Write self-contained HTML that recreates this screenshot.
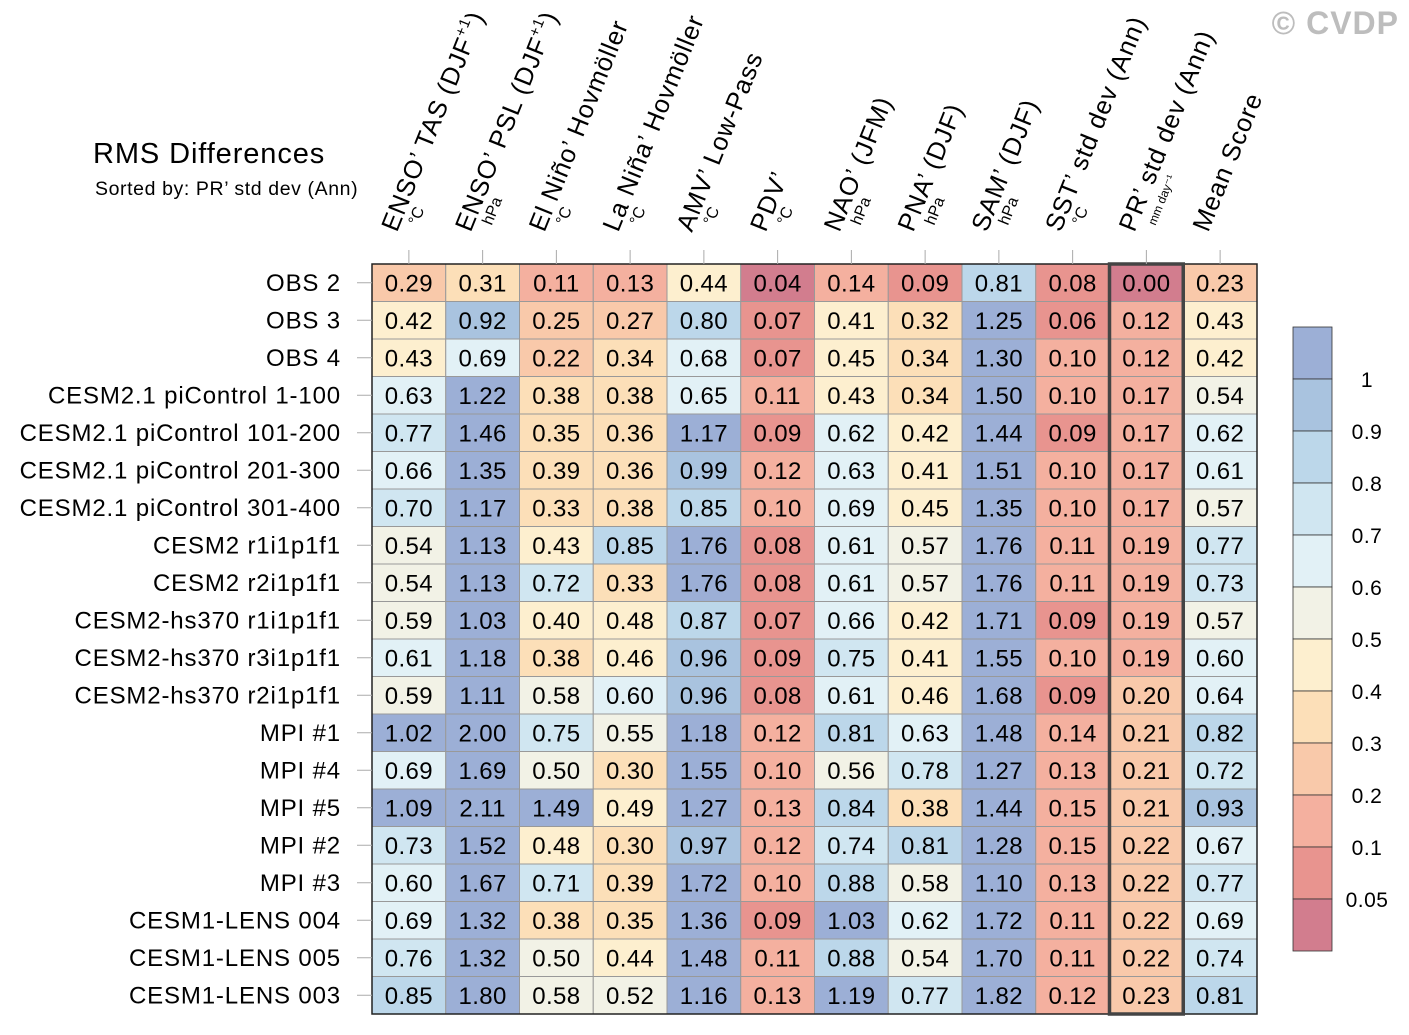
<!DOCTYPE html>
<html><head><meta charset="utf-8"><style>
body{margin:0;background:#fff;}
svg{display:block;font-family:"Liberation Sans",Arial,sans-serif;}
</style></head><body>
<svg id="chart" width="1409" height="1035" viewBox="0 0 1409 1035">
<text x="1399" y="34" text-anchor="end" font-size="32" font-weight="bold" letter-spacing="1" fill="#bdbdbd">© CVDP</text>
<text x="93" y="163" font-size="29" letter-spacing="0.9" fill="#000">RMS Differences</text>
<text x="95" y="195" font-size="19.5" letter-spacing="0.6" fill="#000">Sorted by: PR’ std dev (Ann)</text>
<g id="cells"></g><g id="rowlabels"></g><g id="headers"></g><g id="cbar"></g>
</svg>
<script>
const rows=["OBS 2","OBS 3","OBS 4","CESM2.1 piControl 1-100","CESM2.1 piControl 101-200","CESM2.1 piControl 201-300","CESM2.1 piControl 301-400","CESM2 r1i1p1f1","CESM2 r2i1p1f1","CESM2-hs370 r1i1p1f1","CESM2-hs370 r3i1p1f1","CESM2-hs370 r2i1p1f1","MPI #1","MPI #4","MPI #5","MPI #2","MPI #3","CESM1-LENS 004","CESM1-LENS 005","CESM1-LENS 003"];
const headers=["ENSO’ TAS (DJF","ENSO’ PSL (DJF","El Niño’ Hovmöller","La Niña’ Hovmöller","AMV’ Low-Pass","PDV’","NAO’ (JFM)","PNA’ (DJF)","SAM’ (DJF)","SST’ std dev (Ann)","PR’ std dev (Ann)","Mean Score"];
const units=["°C","hPa","°C","°C","°C","°C","hPa","hPa","hPa","°C","mm day⁻¹",""];
const values=[
[0.29,0.31,0.11,0.13,0.44,0.04,0.14,0.09,0.81,0.08,0.00,0.23],
[0.42,0.92,0.25,0.27,0.80,0.07,0.41,0.32,1.25,0.06,0.12,0.43],
[0.43,0.69,0.22,0.34,0.68,0.07,0.45,0.34,1.30,0.10,0.12,0.42],
[0.63,1.22,0.38,0.38,0.65,0.11,0.43,0.34,1.50,0.10,0.17,0.54],
[0.77,1.46,0.35,0.36,1.17,0.09,0.62,0.42,1.44,0.09,0.17,0.62],
[0.66,1.35,0.39,0.36,0.99,0.12,0.63,0.41,1.51,0.10,0.17,0.61],
[0.70,1.17,0.33,0.38,0.85,0.10,0.69,0.45,1.35,0.10,0.17,0.57],
[0.54,1.13,0.43,0.85,1.76,0.08,0.61,0.57,1.76,0.11,0.19,0.77],
[0.54,1.13,0.72,0.33,1.76,0.08,0.61,0.57,1.76,0.11,0.19,0.73],
[0.59,1.03,0.40,0.48,0.87,0.07,0.66,0.42,1.71,0.09,0.19,0.57],
[0.61,1.18,0.38,0.46,0.96,0.09,0.75,0.41,1.55,0.10,0.19,0.60],
[0.59,1.11,0.58,0.60,0.96,0.08,0.61,0.46,1.68,0.09,0.20,0.64],
[1.02,2.00,0.75,0.55,1.18,0.12,0.81,0.63,1.48,0.14,0.21,0.82],
[0.69,1.69,0.50,0.30,1.55,0.10,0.56,0.78,1.27,0.13,0.21,0.72],
[1.09,2.11,1.49,0.49,1.27,0.13,0.84,0.38,1.44,0.15,0.21,0.93],
[0.73,1.52,0.48,0.30,0.97,0.12,0.74,0.81,1.28,0.15,0.22,0.67],
[0.60,1.67,0.71,0.39,1.72,0.10,0.88,0.58,1.10,0.13,0.22,0.77],
[0.69,1.32,0.38,0.35,1.36,0.09,1.03,0.62,1.72,0.11,0.22,0.69],
[0.76,1.32,0.50,0.44,1.48,0.11,0.88,0.54,1.70,0.11,0.22,0.74],
[0.85,1.80,0.58,0.52,1.16,0.13,1.19,0.77,1.82,0.12,0.23,0.81]];
const levels=[0.05,0.1,0.2,0.3,0.4,0.5,0.6,0.7,0.8,0.9,1];
const levelLabels=["0.05","0.1","0.2","0.3","0.4","0.5","0.6","0.7","0.8","0.9","1"];
const colors=["#d27d8e","#e8948f","#f4b09f","#f9c9aa","#fcdfb8","#fdefcf","#f2f2e6","#e2f1f6","#d0e6f1","#bcd7ea","#a9c3df","#9cafd6"];

const NS="http://www.w3.org/2000/svg";
const X0=372,Y0=264,CW=73.75,RH=37.5;
const xPos=i=>X0+i*CW, yPos=j=>Y0+j*RH;
function colorFor(v){let k=0;while(k<levels.length&&v>=levels[k])k++;return colors[k];}
function mk(tag,attrs,parent){const e=document.createElementNS(NS,tag);for(const a in attrs)e.setAttribute(a,attrs[a]);parent.appendChild(e);return e;}
const cells=document.getElementById('cells');
values.forEach((row,j)=>row.forEach((v,i)=>{
 const r=mk('rect',{x:xPos(i),y:yPos(j),width:CW,height:RH,fill:colorFor(v),stroke:'#999','stroke-width':1},cells);
 
 
 const t=mk('text',{x:xPos(i)+CW/2,y:yPos(j)+RH/2+8.5,'text-anchor':'middle','font-size':24,'letter-spacing':0.4},cells);
 t.textContent=v.toFixed(2);
 
 
}));
const H=rows.length*RH;
const ob=mk('rect',{x:X0,y:Y0,width:CW*12,height:H,fill:'none',stroke:'#222','stroke-width':1.5},cells);


const hb=mk('rect',{x:xPos(10),y:Y0,width:CW,height:H,fill:'none',stroke:'#444','stroke-width':3.5},cells);


const rl=document.getElementById('rowlabels');
rows.forEach((name,j)=>{
 const cy=yPos(j)+RH/2;
 const l=mk('line',{x1:357,x2:X0,y1:cy,y2:cy,stroke:'#aaa','stroke-width':1},rl);
 
 
 const t=mk('text',{x:341,y:cy+8,'text-anchor':'end','font-size':24,'letter-spacing':0.85},rl);
 t.textContent=name;
 
 
});
const hg=document.getElementById('headers');
headers.forEach((h,i)=>{
 const cx=xPos(i)+CW/2;
 const l=mk('line',{x1:cx,x2:cx,y1:250,y2:Y0,stroke:'#aaa','stroke-width':1},hg);
 
 
 const t=mk('text',{x:cx-12,y:233,'font-size':25.5,'letter-spacing':0.9,transform:`rotate(-68 ${cx-12} 233)`},hg);
 t.textContent=h;
 if(i<2){const s=mk('tspan',{'font-size':15,dy:-11},t);s.textContent='+1';const s2=mk('tspan',{dy:11},t);s2.textContent=')';}
 
 
 if(units[i]){
  const u=mk('text',{x:cx+9,y:226,'font-size':units[i].length>4?12:16,transform:`rotate(-68 ${cx+9} 226)`},hg);
  u.textContent=units[i];
  
  
 }
});
const cb=document.getElementById('cbar');
const BX=1293,BY=327,BW=39,BH=52;
colors.slice().reverse().forEach((c,k)=>{
 const r=mk('rect',{x:BX,y:BY+k*BH,width:BW,height:BH,fill:c,stroke:'#333','stroke-width':0.8},cb);
 
 
});
levelLabels.slice().reverse().forEach((lab,k)=>{
 const t=mk('text',{x:1367,y:BY+(k+1)*BH+8,'text-anchor':'middle','font-size':21,'letter-spacing':0.5},cb);
 t.textContent=lab;
 
 
});
</script>
</body></html>
